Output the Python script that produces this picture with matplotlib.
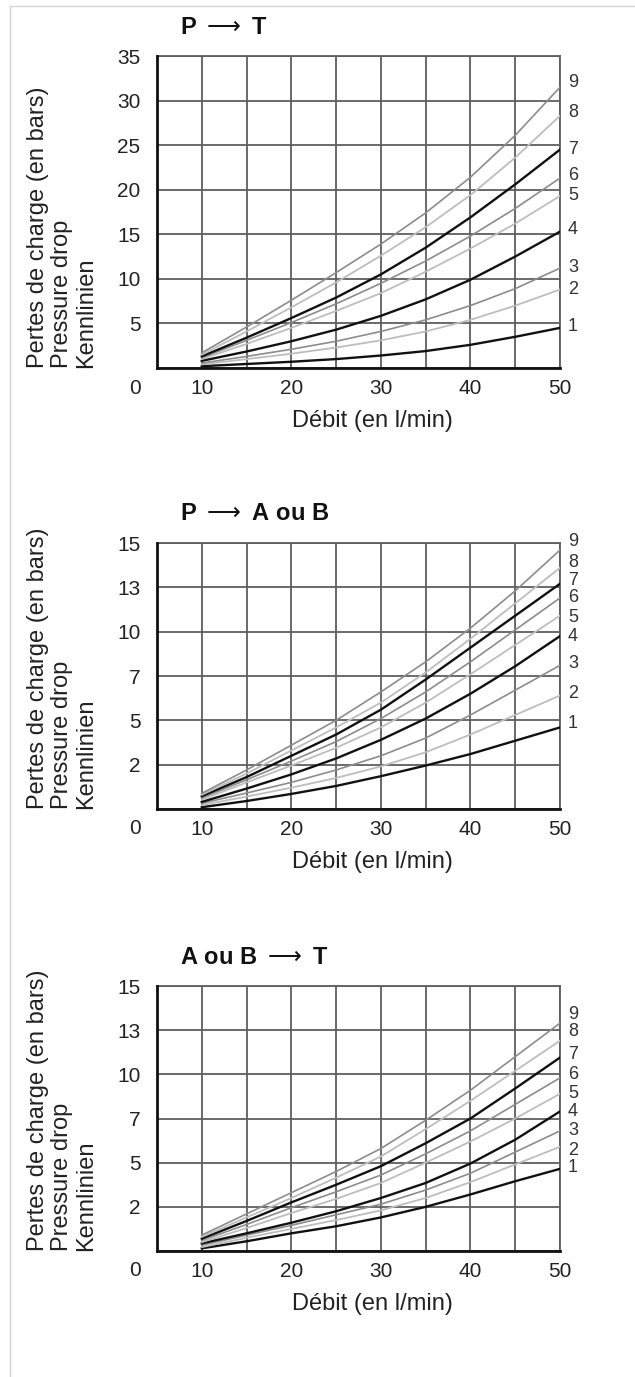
# pressure drop curves, 3 panels
import numpy as np
import matplotlib.pyplot as plt
from matplotlib.lines import Line2D

plt.rcParams['font.family'] = ['Liberation Sans', 'DejaVu Sans']

W, H = 635, 1377

# flow rate (l/min) where the curves were read
flow = [10, 15, 20, 25, 30, 35, 40, 45, 50]
curve_names = ['1', '2', '3', '4', '5', '6', '7', '8', '9']

# P -> T  (bar), curves 1..9
drop_p_t = [
    [0.2, 0.45, 0.7, 1.0, 1.4, 1.9, 2.6, 3.5, 4.5],
    [0.4, 1.0, 1.6, 2.3, 3.1, 4.1, 5.4, 7.0, 8.8],
    [0.55, 1.3, 2.1, 3.0, 4.1, 5.4, 7.0, 8.9, 11.2],
    [0.8, 1.85, 3.0, 4.3, 5.85, 7.7, 9.9, 12.5, 15.3],
    [1.0, 2.7, 4.5, 6.4, 8.4, 10.8, 13.4, 16.2, 19.3],
    [1.15, 3.1, 5.1, 7.2, 9.5, 12.0, 14.8, 17.9, 21.3],
    [1.3, 3.4, 5.6, 7.9, 10.5, 13.5, 16.9, 20.6, 24.5],
    [1.5, 4.1, 6.8, 9.6, 12.6, 15.8, 19.4, 23.6, 28.3],
    [1.7, 4.6, 7.6, 10.7, 13.9, 17.4, 21.4, 26.1, 31.5],
]

# P -> A ou B
drop_p_ab = [
    [0.1, 0.45, 0.85, 1.3, 1.85, 2.45, 3.1, 3.85, 4.6],
    [0.22, 0.7, 1.2, 1.75, 2.4, 3.2, 4.2, 5.3, 6.4],
    [0.32, 0.9, 1.5, 2.2, 3.0, 4.0, 5.3, 6.7, 8.1],
    [0.4, 1.15, 1.95, 2.85, 3.9, 5.1, 6.5, 8.05, 9.75],
    [0.52, 1.5, 2.45, 3.45, 4.6, 6.0, 7.6, 9.25, 10.9],
    [0.62, 1.65, 2.7, 3.8, 5.1, 6.6, 8.3, 10.1, 11.9],
    [0.72, 1.8, 3.0, 4.2, 5.6, 7.3, 9.1, 10.9, 12.7],
    [0.8, 2.0, 3.3, 4.6, 6.0, 7.7, 9.6, 11.6, 13.6],
    [0.88, 2.2, 3.6, 5.0, 6.6, 8.3, 10.2, 12.3, 14.6],
]

# A ou B -> T
drop_ab_t = [
    [0.15, 0.55, 1.0, 1.4, 1.9, 2.5, 3.2, 3.95, 4.65],
    [0.22, 0.75, 1.25, 1.75, 2.3, 3.0, 3.9, 4.9, 5.9],
    [0.33, 0.9, 1.45, 2.05, 2.65, 3.45, 4.4, 5.6, 6.8],
    [0.43, 1.0, 1.6, 2.25, 3.0, 3.85, 4.95, 6.3, 7.9],
    [0.5, 1.3, 2.15, 2.95, 3.85, 5.0, 6.2, 7.5, 8.9],
    [0.6, 1.5, 2.45, 3.35, 4.3, 5.5, 6.8, 8.3, 9.8],
    [0.7, 1.7, 2.75, 3.75, 4.8, 6.1, 7.5, 9.2, 10.95],
    [0.8, 1.9, 3.0, 4.15, 5.35, 6.9, 8.5, 10.2, 11.9],
    [0.9, 2.1, 3.3, 4.5, 5.8, 7.4, 9.1, 11.0, 12.9],
]

xtick_labels = ['', '10', '', '20', '', '30', '', '40', '', '50']
ytick_labels_35 = ['', '5', '10', '15', '20', '25', '30', '35']
ytick_labels_15 = ['', '2', '5', '7', '10', '13', '15']

# where the curve numbers sit at the right edge (data units)
label_y_p_t = [4.6, 8.8, 11.3, 15.5, 19.3, 21.6, 24.5, 28.7, 32.0]
label_y_p_ab = [4.8, 6.5, 8.2, 9.7, 10.8, 11.9, 12.9, 13.9, 15.1]
label_y_ab_t = [4.7, 5.7, 6.8, 7.9, 8.9, 10.0, 11.1, 12.4, 13.4]

line_colors = ['#111111', '#bdbdbd', '#8c8c8c']
line_widths = [1.7, 1.3, 1.2]
grid_col = '#5e5e5e'


def px(x, y):
    return x / W, 1 - y / H


fig = plt.figure(figsize=(W / 100, H / 100), dpi=100)

# thin frame of the original page
fig.add_artist(Line2D([10 / W, 10 / W], [0, 1 - 6 / H], color='#d4d4d4', lw=1))
fig.add_artist(Line2D([10 / W, 1], [1 - 6 / H, 1 - 6 / H], color='#d4d4d4', lw=1))


def panel(top, bottom, title, curves, ymax, ystep, ylabels, label_y):
    x0, y0 = px(157, bottom)
    x1, y1 = px(560, top)
    ax = fig.add_axes([x0, y0, x1 - x0, y1 - y0])
    for i, vals in enumerate(curves):
        ax.plot(flow, vals, color=line_colors[i % 3], lw=line_widths[i % 3],
                zorder=3, solid_joinstyle='round')
        ax.text(50.9, label_y[i], curve_names[i], fontsize=13, color='#333333',
                ha='left', va='center', clip_on=False)
    ax.set_xlim(5, 50)
    ax.set_ylim(0, ymax)
    ax.set_xticks(np.arange(5, 51, 5))
    ax.set_xticklabels(xtick_labels)
    ax.set_yticks(np.arange(0, ymax + 0.01, ystep))
    ax.set_yticklabels(ylabels)
    ax.tick_params(length=0, labelsize=15, labelcolor='#222222')
    ax.tick_params(axis='x', pad=8)
    ax.tick_params(axis='y', pad=12)
    ax.grid(True, color=grid_col, lw=1.3)
    ax.set_axisbelow(True)
    for s in ['top', 'right']:
        ax.spines[s].set_color(grid_col)
        ax.spines[s].set_linewidth(1.3)
    for s in ['left', 'bottom']:
        ax.spines[s].set_color('#111111')
        ax.spines[s].set_linewidth(2.0)
        ax.spines[s].set_zorder(4)

    fig.text(*px(180, top - 29), title, fontsize=17, fontweight='bold',
             ha='left', va='center', color='#111111')
    fig.text(*px(141, bottom + 20), '0', fontsize=15, ha='right', va='center',
             color='#222222')
    fig.text(*px(372, bottom + 53), 'Débit (en l/min)', fontsize=17,
             ha='center', va='center', color='#222222')
    fig.text(*px(62, bottom), 'Pertes de charge (en bars)\nPressure drop\nKennlinien',
             fontsize=17, rotation=90, ha='center', va='bottom',
             multialignment='left', linespacing=1.1, color='#222222')
    return ax


panel(56, 368, r'P $\longrightarrow$ T', drop_p_t, 35, 5, ytick_labels_35, label_y_p_t)
panel(543, 809, r'P $\longrightarrow$ A ou B', drop_p_ab, 15, 2.5, ytick_labels_15, label_y_p_ab)
panel(986, 1251, r'A ou B $\longrightarrow$ T', drop_ab_t, 15, 2.5, ytick_labels_15, label_y_ab_t)

plt.savefig('out.png', dpi=100)
